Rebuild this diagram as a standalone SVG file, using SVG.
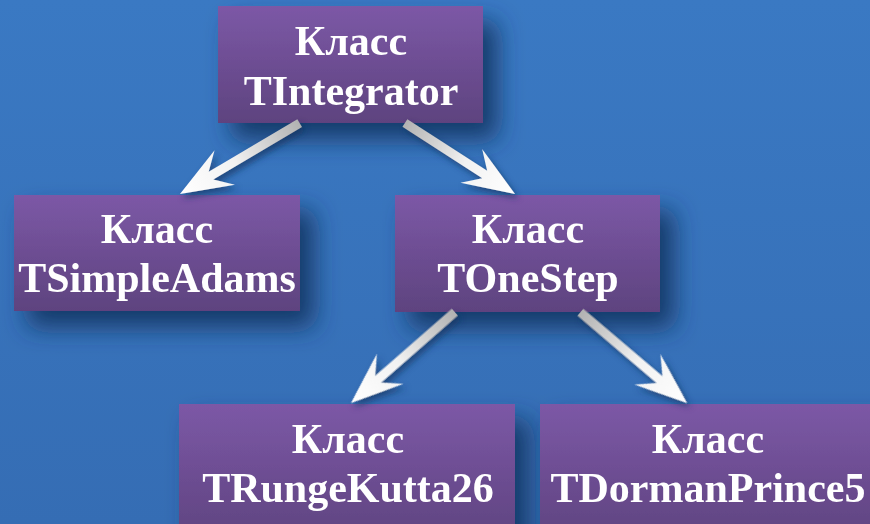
<svg xmlns="http://www.w3.org/2000/svg" width="870" height="524" viewBox="0 0 870 524">
  <defs>
    <linearGradient id="bg" x1="0" y1="0" x2="0" y2="1">
      <stop offset="0" stop-color="#3a79c3"/>
      <stop offset="1" stop-color="#356db4"/>
    </linearGradient>
    <linearGradient id="boxFill" x1="0" y1="0" x2="0" y2="1">
      <stop offset="0" stop-color="#7c58a6"/>
      <stop offset="1" stop-color="#5e437f"/>
    </linearGradient>
    <linearGradient id="arrowFill" x1="0" y1="0" x2="1" y2="0">
      <stop offset="0" stop-color="#b2b2b2"/>
      <stop offset="0.55" stop-color="#f2f2f2"/>
      <stop offset="1" stop-color="#ffffff"/>
    </linearGradient>
    <filter id="boxShadow" x="-25%" y="-35%" width="160%" height="190%">
      <feGaussianBlur in="SourceAlpha" stdDeviation="12"/>
      <feOffset dx="14" dy="16" result="blur"/>
      <feFlood flood-color="#143461" flood-opacity="0.9"/>
      <feComposite in2="blur" operator="in"/>
      <feMerge>
        <feMergeNode/>
        <feMergeNode in="SourceGraphic"/>
      </feMerge>
    </filter>
    <filter id="arrowShadow" x="-30%" y="-60%" width="160%" height="220%">
      <feGaussianBlur in="SourceAlpha" stdDeviation="3"/>
      <feOffset dx="3" dy="4" result="blur"/>
      <feFlood flood-color="#143461" flood-opacity="0.7"/>
      <feComposite in2="blur" operator="in"/>
      <feMerge>
        <feMergeNode/>
        <feMergeNode in="SourceGraphic"/>
      </feMerge>
    </filter>
    <style>
      .box { fill: url(#boxFill); }
      .label { font-family: "Liberation Serif", "Times New Roman", serif; font-weight: bold; font-size: 42px; fill: #ffffff; text-anchor: middle; }
      .arrow { fill: url(#arrowFill); }
    </style>
  </defs>

  <rect x="0" y="0" width="870" height="524" fill="url(#bg)"/>

  <!-- class boxes -->
  <g id="node-tintegrator" filter="url(#boxShadow)">
    <rect class="box" x="218" y="6" width="265" height="117"/>
    <text class="label" x="351" y="55">Класс</text>
    <text class="label" x="351" y="105">TIntegrator</text>
  </g>
  <g id="node-tsimpleadams" filter="url(#boxShadow)">
    <rect class="box" x="14" y="195" width="286" height="116"/>
    <text class="label" x="157" y="243">Класс</text>
    <text class="label" x="157" y="292">TSimpleAdams</text>
  </g>
  <g id="node-tonestep" filter="url(#boxShadow)">
    <rect class="box" x="395" y="195" width="265" height="117"/>
    <text class="label" x="528" y="243">Класс</text>
    <text class="label" x="528" y="292">TOneStep</text>
  </g>
  <g id="node-trungekutta26" filter="url(#boxShadow)">
    <rect class="box" x="179" y="404" width="336" height="140"/>
    <text class="label" x="348" y="453">Класс</text>
    <text class="label" x="348" y="502">TRungeKutta26</text>
  </g>
  <g id="node-tdormanprince5" filter="url(#boxShadow)">
    <rect class="box" x="540" y="404" width="345" height="140"/>
    <text class="label" x="708" y="453">Класс</text>
    <text class="label" x="708" y="502">TDormanPrince5</text>
  </g>

  <!-- inheritance arrows: each drawn along +x with the tip at the origin, then placed -->
  <g id="connectors" filter="url(#arrowShadow)">
    <path class="arrow" transform="translate(180,194) rotate(149.4)" d="M-139,-4.5 L-36,-4.5 L-52,-20 L0,0 L-52,20 L-36,4.5 L-139,4.5 Z"/>
    <path class="arrow" transform="translate(515,194) rotate(32.8)" d="M-131,-4.5 L-36,-4.5 L-52,-20 L0,0 L-52,20 L-36,4.5 L-131,4.5 Z"/>
    <path class="arrow" transform="translate(351,403) rotate(138.8)" d="M-138,-4.5 L-36,-4.5 L-52,-20 L0,0 L-52,20 L-36,4.5 L-138,4.5 Z"/>
    <path class="arrow" transform="translate(687,403) rotate(40.4)" d="M-140,-4.5 L-36,-4.5 L-52,-20 L0,0 L-52,20 L-36,4.5 L-140,4.5 Z"/>
  </g>
</svg>
